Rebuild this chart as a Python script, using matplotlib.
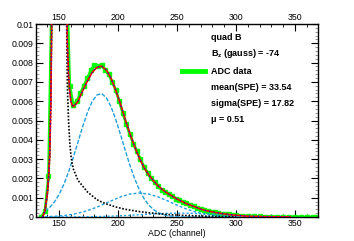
import matplotlib
matplotlib.use("Agg")
import matplotlib.pyplot as plt
from matplotlib.ticker import MultipleLocator

plt.rcParams['font.family'] = ['Liberation Sans', 'DejaVu Sans']
plt.rcParams['mathtext.fontset'] = 'custom'
plt.rcParams['mathtext.bf'] = 'Liberation Sans:bold'
plt.rcParams['mathtext.rm'] = 'Liberation Sans'

# ADC histogram (green)
data_x = [135, 138, 141, 144, 147, 150, 153, 156, 159, 162, 165, 168, 171, 174,
          177, 180, 183, 186, 189, 192, 195, 198, 201, 204, 207, 210, 213, 216,
          219, 222, 225, 228, 231, 234, 237, 240, 243, 246, 249, 252, 255, 258,
          261, 264, 267, 270, 273, 276, 279, 282, 285, 288, 291, 294, 297, 300,
          305, 310, 315, 320, 325, 330, 335, 340, 345, 350, 355, 360, 365, 369]
data_y = [0.0000, 0.0003, 0.0021, 0.0125, 0.05, 0.06, 0.05, 0.0135, 0.0068,
          0.0058, 0.0060, 0.0064, 0.0068, 0.0072, 0.0076, 0.0079, 0.0078,
          0.0079, 0.0076, 0.0074, 0.0070, 0.0066, 0.0060, 0.0054, 0.0048,
          0.0043, 0.0038, 0.0034, 0.0030, 0.0026, 0.0023, 0.0020, 0.0018,
          0.0016, 0.0014, 0.0013, 0.0012, 0.0011, 0.00095, 0.00087, 0.00078,
          0.0007, 0.00062, 0.00055, 0.00048, 0.00042, 0.00036, 0.00031,
          0.00028, 0.00024, 0.0002, 0.00018, 0.00015, 0.00013, 0.00011,
          0.0001, 0.00007, 0.00005, 0.00004, 0.00003, 0.00002, 0.00002,
          0.00001, 0.0, 0.0, 0.0, 0.0, 0.0, 0.0, 0.0]

# total fit (red)
fit_x = [136, 138, 140, 141, 142, 143, 144, 150, 156, 157, 158, 159, 160, 161,
         162, 164, 166, 168, 170, 174, 178, 182, 186, 190, 194, 198, 202, 206,
         210, 214, 218, 222, 226, 230, 234, 238, 242, 246, 250, 254, 258, 262,
         266, 270, 274, 278, 282, 286, 290, 294, 298, 302, 306, 310, 314, 318,
         322, 326, 330, 334, 338, 342, 346]
fit_y = [0.0, 0.0003, 0.0012, 0.0020, 0.0032, 0.0060, 0.0120, 0.0600, 0.0139,
         0.00903, 0.00741, 0.00649, 0.00599, 0.0058, 0.00572, 0.00584,
         0.00598, 0.00626, 0.00655, 0.00704, 0.00749, 0.00775, 0.00782,
         0.00762, 0.0072, 0.00657, 0.00586, 0.00507, 0.00433, 0.00366,
         0.00306, 0.00257, 0.00218, 0.00188, 0.00161, 0.0014, 0.00123,
         0.00108, 0.00093, 0.00081, 0.00069, 0.0006, 0.00051, 0.00041,
         0.00034, 0.00029, 0.00024, 0.0002, 0.00016, 0.00013, 0.0001,
         0.00008, 0.00006, 0.00004, 0.00003, 0.00003, 0.00002, 0.000015,
         0.000012, 0.000009, 0.000006, 0.000005, 0.000004]

# pedestal (black dotted)
ped_x = [136, 138, 140, 141, 142, 143, 144, 150, 156, 157, 158, 159, 160, 161,
         162, 164, 166, 168, 170, 174, 178, 182, 186, 190, 194, 198, 202, 206,
         210, 214, 218, 222, 226, 230, 234, 238, 242, 246, 250, 260, 270, 280,
         290, 300]
ped_y = [0.0, 0.0003, 0.0012, 0.0020, 0.0031, 0.0058, 0.0120, 0.0600, 0.0120,
         0.0068, 0.0050, 0.0039, 0.0032, 0.0028, 0.0025, 0.0022, 0.0019,
         0.00175, 0.0016, 0.0013, 0.0011, 0.0009, 0.00078, 0.00068, 0.0006,
         0.00052, 0.00046, 0.0004, 0.00036, 0.00032, 0.00028, 0.00025,
         0.00022, 0.0002, 0.00017, 0.00015, 0.00013, 0.00011, 0.0001,
         0.00007, 0.00005, 0.00003, 0.00002, 0.00001]

# 1 p.e. (cyan dashed)
pe1_x = [138, 142, 146, 150, 154, 158, 162, 166, 170, 174, 178, 182, 186, 190,
         194, 198, 202, 206, 210, 214, 218, 222, 226, 230, 234, 238, 242, 246,
         250, 254, 258, 270, 290, 310, 330, 346]
pe1_y = [0.0003, 0.000494, 0.000778, 0.00117, 0.00169, 0.00233, 0.00308,
         0.00388, 0.00469, 0.00541, 0.00598, 0.00632, 0.0064, 0.00618,
         0.00572, 0.00506, 0.00429, 0.00347, 0.00269, 0.002, 0.00142,
         0.00096, 0.000624, 0.000387, 0.00023, 0.00013, 0.000071, 0.000037,
         0.000018, 0.000008, 0.000004, 0.0, 0.0, 0.0, 0.0, 0.0]

# 2 p.e. (cyan dashed)
pe2_x = [138, 146, 154, 162, 170, 178, 186, 194, 202, 210, 218, 226, 234, 242,
         250, 258, 266, 274, 282, 290, 298, 306, 314, 330, 346]
pe2_y = [0.000015, 0.000035, 0.000075, 0.000144, 0.000255, 0.000414,
         0.000614, 0.000835, 0.00104, 0.00119, 0.00124, 0.00119, 0.00104,
         0.000835, 0.000614, 0.000414, 0.000255, 0.000144, 0.000075,
         0.000035, 0.000015, 0.000006, 0.000002, 0.0, 0.0]

# 3 p.e. (cyan dashed)
pe3_x = [138, 150, 162, 174, 186, 198, 210, 222, 234, 246, 258, 270, 282, 294,
         306, 318, 330, 342, 346]
pe3_y = [0.0000005, 0.0000017, 0.000005, 0.000012, 0.000027, 0.000052,
         0.000089, 0.000132, 0.000172, 0.000197, 0.000197, 0.000172,
         0.000132, 0.000089, 0.000052, 0.000027, 0.000012, 0.000005,
         0.000004]

x_ticks = [150, 200, 250, 300, 350]
y_ticks = [0, 0.001, 0.002, 0.003, 0.004, 0.005, 0.006, 0.007, 0.008, 0.009, 0.01]
y_labels = ['0', '0.001', '0.002', '0.003', '0.004', '0.005', '0.006',
            '0.007', '0.008', '0.009', '0.01']

info_lines = ['quad B', r'B$_{\mathbf{z}}$ (gauss) = -74', 'ADC data',
              'mean(SPE) = 33.54', 'sigma(SPE) = 17.82', 'μ = 0.51']

cyan = '#1ea0dc'
green = '#00ff00'

fig = plt.figure(figsize=(3.54, 2.41), dpi=100)
ax = fig.add_axes([36 / 354, 1 - 217 / 241, 282 / 354, 193 / 241])

ax.plot(data_x, data_y, color=green, lw=2.0, solid_capstyle='butt', zorder=2)
ax.plot(data_x, data_y, color=green, marker='s', markersize=3.0, lw=0,
        zorder=2)
ax.plot(pe1_x, pe1_y, color=cyan, lw=1.0, ls=(0, (3, 1.2)), zorder=3)
ax.plot(pe2_x, pe2_y, color=cyan, lw=1.0, ls=(0, (2, 1.5)), zorder=3)
ax.plot(pe3_x, pe3_y, color=cyan, lw=1.0, ls=(0, (1.5, 1.5)), zorder=3)
ax.plot(ped_x, ped_y, color='black', lw=1.2, ls=(0, (1, 1)), zorder=4)
ax.plot(fit_x, fit_y, color='red', lw=1.2, zorder=5)
ax.plot(fit_x, fit_y, color='blue', lw=0.8, ls=(0, (1, 3)), zorder=6)

ax.set_xlim(130.4, 369.6)
ax.set_ylim(0, 0.01)
ax.set_xticks(x_ticks)
ax.set_xticklabels([str(v) for v in x_ticks])
ax.set_yticks(y_ticks)
ax.set_yticklabels(y_labels)
ax.xaxis.set_minor_locator(MultipleLocator(10))
ax.yaxis.set_minor_locator(MultipleLocator(0.0002))
ax.tick_params(which='both', direction='in', top=True, right=True,
               labeltop=True, labelsize=6.3, colors='black', pad=1.5)
ax.tick_params(which='major', length=5, width=0.8)
ax.tick_params(which='minor', length=2.5, width=0.6)
ax.tick_params(axis='y', which='minor', colors='#888888')
for s in ax.spines.values():
    s.set_linewidth(1.0)

ax.set_xlabel('ADC (channel)', fontsize=6.3, labelpad=0.5)

ys = [38, 54, 71, 87.5, 103, 120]
for txt, y in zip(info_lines, ys):
    fig.text(211 / 354, 1 - y / 241, txt, fontsize=6.5, fontweight='bold',
             va='center', ha='left')
fig.add_artist(plt.Line2D([182 / 354, 205 / 354], [1 - 71 / 241, 1 - 71 / 241],
                          color=green, lw=3.5))

fig.savefig('out.png', dpi=100)
